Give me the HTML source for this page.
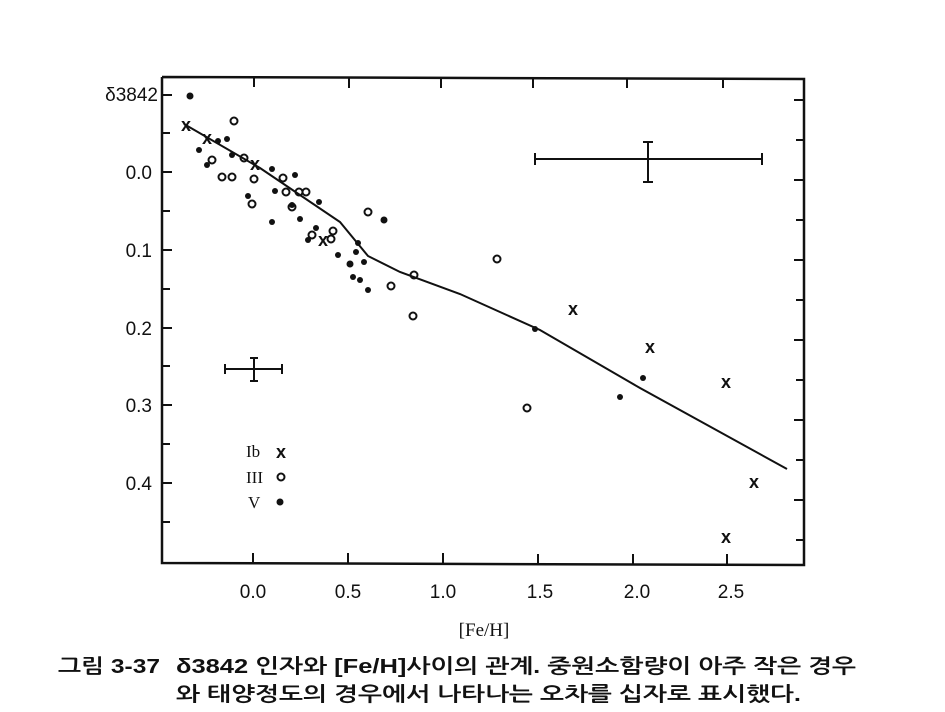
<!DOCTYPE html>
<html><head><meta charset="utf-8"><style>
body{margin:0;background:#fff;}
svg{display:block}
text{font-family:"Liberation Sans","NanumGothic",sans-serif;fill:#111}
</style></head><body>
<svg width="945" height="712" viewBox="0 0 945 712">
<rect width="945" height="712" fill="#fff"/>
<g stroke="#111" fill="none" stroke-width="2.5">
<polyline points="162,77 804,79 804,565 162,563 162,77"/>
</g>
<g stroke="#111" stroke-width="2">
<line x1="162" y1="95" x2="172" y2="95"/><line x1="162" y1="133" x2="170" y2="133"/>
<line x1="162" y1="172" x2="172" y2="172"/><line x1="162" y1="211" x2="170" y2="211"/>
<line x1="162" y1="250" x2="172" y2="250"/><line x1="162" y1="289" x2="170" y2="289"/>
<line x1="162" y1="328" x2="172" y2="328"/><line x1="162" y1="366" x2="170" y2="366"/>
<line x1="162" y1="405" x2="172" y2="405"/><line x1="162" y1="444" x2="170" y2="444"/>
<line x1="162" y1="483" x2="172" y2="483"/><line x1="162" y1="522" x2="170" y2="522"/>
<line x1="794" y1="100" x2="804" y2="100"/><line x1="796" y1="140" x2="804" y2="140"/>
<line x1="794" y1="180" x2="804" y2="180"/><line x1="796" y1="220" x2="804" y2="220"/>
<line x1="794" y1="260" x2="804" y2="260"/><line x1="796" y1="300" x2="804" y2="300"/>
<line x1="794" y1="340" x2="804" y2="340"/><line x1="796" y1="380" x2="804" y2="380"/>
<line x1="794" y1="420" x2="804" y2="420"/><line x1="796" y1="460" x2="804" y2="460"/>
<line x1="794" y1="500" x2="804" y2="500"/><line x1="796" y1="540" x2="804" y2="540"/>
<line x1="253" y1="563" x2="253" y2="553"/><line x1="348" y1="563" x2="348" y2="553"/>
<line x1="443" y1="563" x2="443" y2="553"/><line x1="538" y1="564" x2="538" y2="554"/>
<line x1="633" y1="564" x2="633" y2="554"/><line x1="727" y1="564" x2="727" y2="554"/>
<line x1="254" y1="77" x2="254" y2="87"/><line x1="349" y1="78" x2="349" y2="88"/>
<line x1="441" y1="78" x2="441" y2="88"/><line x1="533" y1="78" x2="533" y2="88"/>
<line x1="627" y1="78" x2="627" y2="88"/><line x1="723" y1="78" x2="723" y2="88"/>
</g>
<g font-size="19" text-anchor="end">
<text x="158" y="101">δ3842</text>
<text x="152" y="179">0.0</text><text x="152" y="257">0.1</text>
<text x="152" y="335">0.2</text><text x="152" y="412">0.3</text>
<text x="152" y="490">0.4</text>
</g>
<g font-size="19" text-anchor="middle">
<text x="253" y="598">0.0</text><text x="348" y="598">0.5</text>
<text x="443" y="598">1.0</text><text x="540" y="598">1.5</text>
<text x="637" y="598">2.0</text><text x="731" y="598">2.5</text>
<text x="484" y="636" font-size="19" style="font-family:'Liberation Serif',serif">[Fe/H]</text>
</g>
<polyline fill="none" stroke="#111" stroke-width="2" points="184,124 260,168 340,222 368,256 400,272 460,294 540,330 640,388 787,469"/>
<g stroke="#111" stroke-width="2" fill="none">
<line x1="535" y1="159" x2="762" y2="159"/><line x1="535" y1="153" x2="535" y2="165"/><line x1="762" y1="153" x2="762" y2="165"/>
<line x1="648" y1="142" x2="648" y2="182"/><line x1="643" y1="142" x2="653" y2="142"/><line x1="643" y1="182" x2="653" y2="182"/>
<line x1="225" y1="369" x2="282" y2="369"/><line x1="225" y1="364" x2="225" y2="374"/><line x1="282" y1="364" x2="282" y2="374"/>
<line x1="254" y1="358" x2="254" y2="381"/><line x1="250" y1="358" x2="258" y2="358"/><line x1="250" y1="381" x2="258" y2="381"/>
</g>
<g fill="#111">
<circle cx="190" cy="96" r="3.5"/><circle cx="199" cy="150" r="3"/><circle cx="207" cy="165" r="3"/>
<circle cx="218" cy="141" r="3"/><circle cx="227" cy="139" r="3"/><circle cx="232" cy="155" r="3"/>
<circle cx="248" cy="196" r="3"/><circle cx="272" cy="169" r="3"/><circle cx="275" cy="191" r="3"/>
<circle cx="272" cy="222" r="3"/><circle cx="295" cy="175" r="3"/><circle cx="292" cy="205" r="3"/>
<circle cx="300" cy="219" r="3"/><circle cx="319" cy="202" r="3"/><circle cx="308" cy="240" r="3"/>
<circle cx="316" cy="228" r="3"/><circle cx="338" cy="255" r="3"/><circle cx="356" cy="252" r="3"/>
<circle cx="358" cy="243" r="3"/><circle cx="364" cy="262" r="3"/><circle cx="353" cy="277" r="3"/>
<circle cx="368" cy="290" r="3"/><circle cx="360" cy="280" r="3"/><circle cx="384" cy="220" r="3.5"/>
<circle cx="535" cy="329" r="3"/><circle cx="643" cy="378" r="3"/><circle cx="620" cy="397" r="3"/>
<circle cx="280" cy="502" r="3.5"/><circle cx="350" cy="264" r="3.5"/>
</g>
<g fill="none" stroke="#111" stroke-width="2">
<circle cx="234" cy="121" r="3.5"/><circle cx="212" cy="160" r="3.5"/><circle cx="222" cy="177" r="3.5"/>
<circle cx="232" cy="177" r="3.5"/><circle cx="244" cy="158" r="3.5"/><circle cx="254" cy="179" r="3.5"/>
<circle cx="252" cy="204" r="3.5"/><circle cx="283" cy="178" r="3.5"/><circle cx="286" cy="192" r="3.5"/>
<circle cx="299" cy="192" r="3.5"/><circle cx="306" cy="192" r="3.5"/><circle cx="292" cy="207" r="3.5"/>
<circle cx="312" cy="235" r="3.5"/><circle cx="333" cy="231" r="3.5"/><circle cx="331" cy="239" r="3.5"/>
<circle cx="368" cy="212" r="3.5"/><circle cx="414" cy="275" r="3.5"/><circle cx="391" cy="286" r="3.5"/>
<circle cx="413" cy="316" r="3.5"/><circle cx="497" cy="259" r="3.5"/><circle cx="527" cy="408" r="3.5"/>
<circle cx="281" cy="477" r="3.5"/>
</g>
<g font-size="18" text-anchor="middle" font-weight="bold">
<text x="186" y="131">x</text><text x="207" y="144">x</text><text x="255" y="170">x</text>
<text x="323" y="246">x</text><text x="573" y="315">x</text><text x="650" y="353">x</text>
<text x="726" y="388">x</text><text x="754" y="488">x</text><text x="726" y="543">x</text>
<text x="281" y="458">x</text>
</g>
<g font-size="17">
<text x="246" y="457" style="font-family:'Liberation Serif',serif">Ib</text>
<text x="246" y="483" style="font-family:'Liberation Serif',serif">III</text>
<text x="248" y="508" style="font-family:'Liberation Serif',serif">V</text>
</g>
<g font-size="20" font-weight="bold">
<text x="58" y="673" textLength="102" lengthAdjust="spacingAndGlyphs">그림 3-37</text>
<text x="176" y="673" textLength="680" lengthAdjust="spacingAndGlyphs">δ3842 인자와 [Fe/H]사이의 관계. 중원소함량이 아주 작은 경우</text>
<text x="176" y="701" textLength="625" lengthAdjust="spacingAndGlyphs">와 태양정도의 경우에서 나타나는 오차를 십자로 표시했다.</text>
</g>
</svg>
</body></html>
